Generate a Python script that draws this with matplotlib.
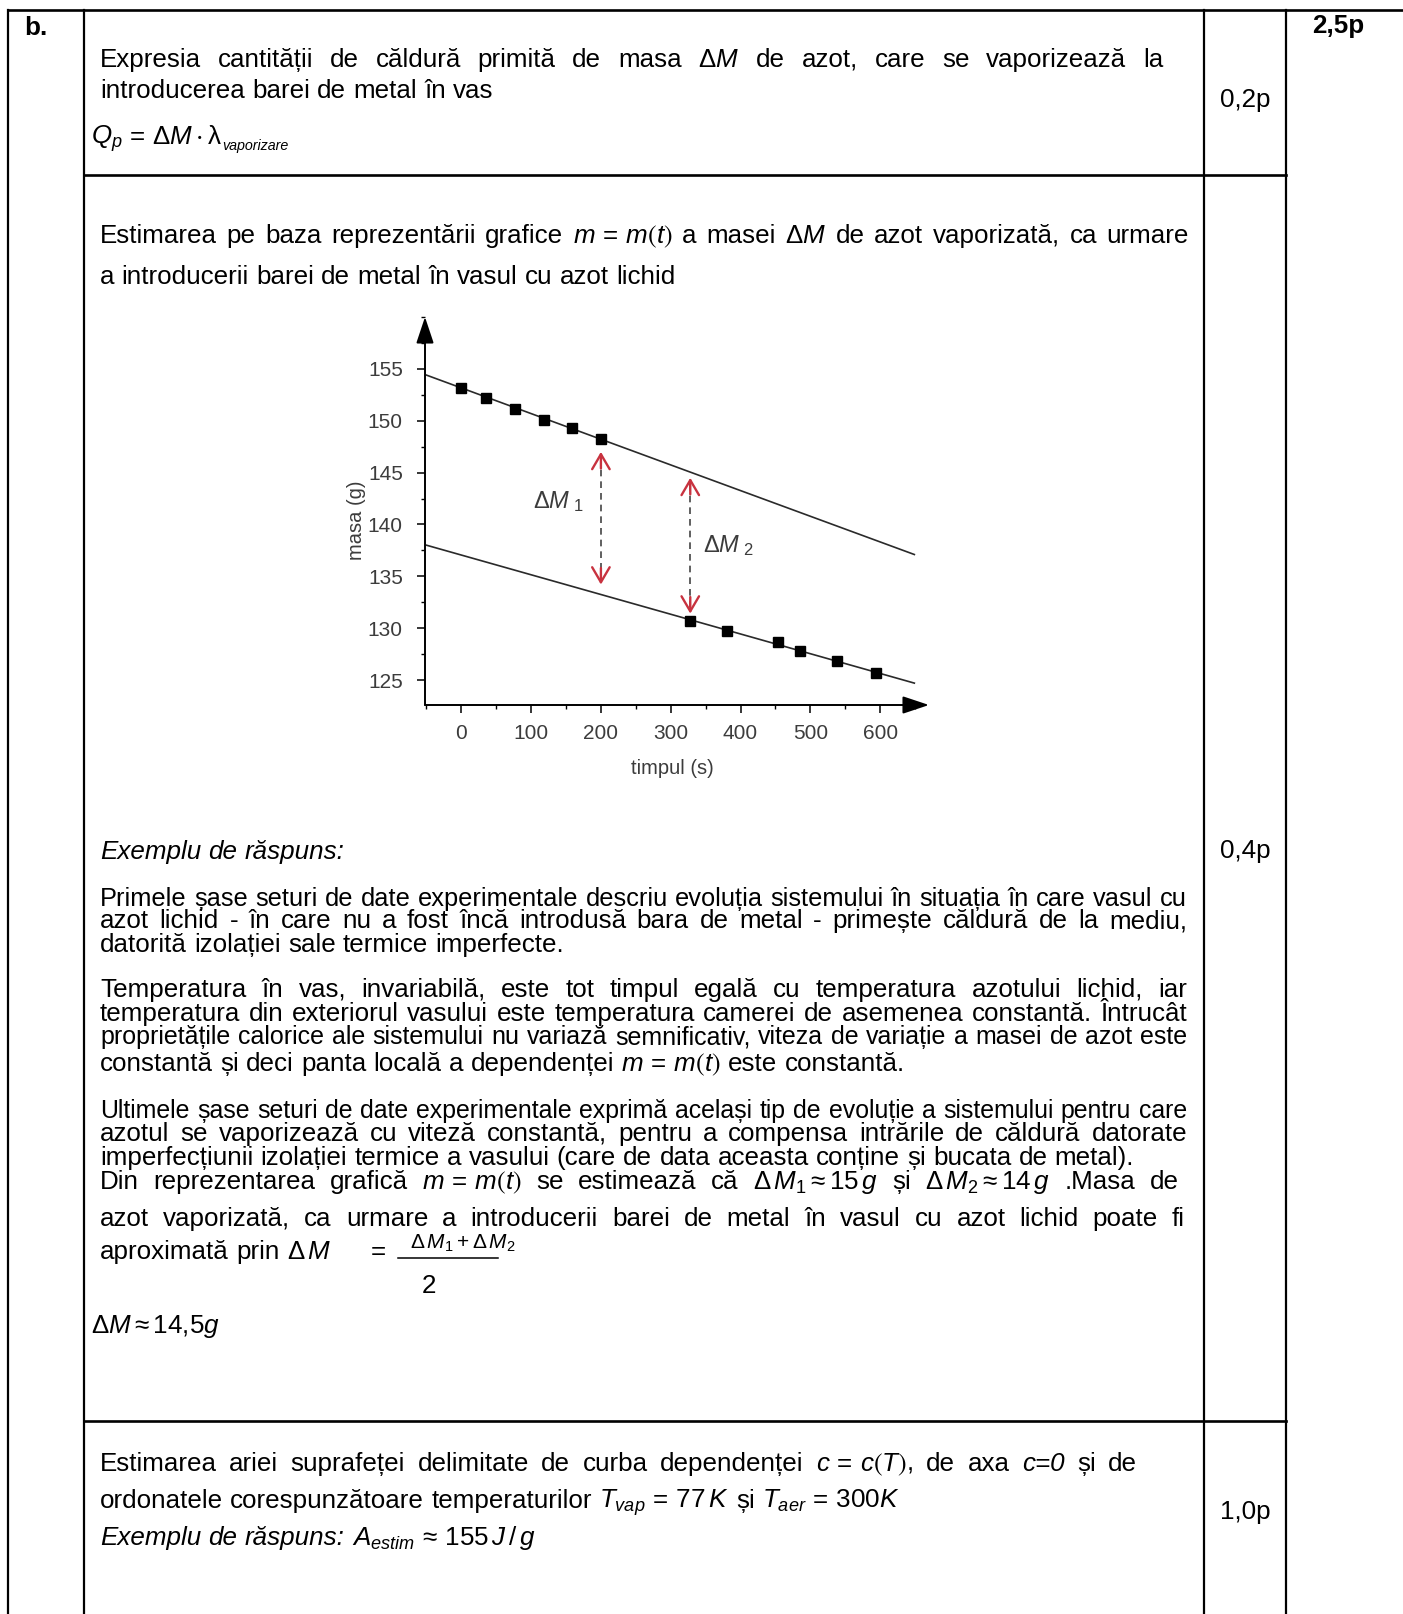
import matplotlib
matplotlib.use('Agg')
import matplotlib.pyplot as plt
from matplotlib.ticker import FixedLocator, MultipleLocator

plt.rcParams['font.family'] = ['Liberation Sans', 'DejaVu Sans']
plt.rcParams['mathtext.fontset'] = 'custom'
plt.rcParams['mathtext.rm'] = 'Liberation Sans'
plt.rcParams['mathtext.it'] = 'Liberation Sans:italic'
plt.rcParams['mathtext.bf'] = 'Liberation Sans:bold'
plt.rcParams['mathtext.sf'] = 'Liberation Sans'
plt.rcParams['mathtext.fallback'] = 'stixsans'

# ---------------- chart data ----------------
t_before = [0, 36, 77, 119, 158, 200]
m_before = [153.2, 152.2, 151.1, 150.1, 149.3, 148.2]
t_after = [328, 380, 453, 485, 538, 594]
m_after = [130.7, 129.7, 128.7, 127.8, 126.8, 125.7]
fit_t = [-50, 649]
fit_before = [154.4, 137.1]
fit_after = [138.0, 124.7]
dm_names = ['1', '2']
dm_t = [200, 328]
dm_top = [147.0, 144.5]
dm_bottom = [134.2, 131.4]
x_ticks = [0, 100, 200, 300, 400, 500, 600]
y_ticks = [125, 130, 135, 140, 145, 150, 155]
x_label = 'timpul (s)'
y_label = 'masa (g)'
point_labels = ['0,2p', '0,4p', '1,0p']
total_label = '2,5p'
row_label = 'b.'

W, H = 1403, 1614
fig = plt.figure(figsize=(W / 100, H / 100), dpi=100)
doc = fig.add_axes([0, 0, 1, 1])
doc.set_xlim(0, W)
doc.set_ylim(H, 0)
doc.axis('off')
renderer = fig.canvas.get_renderer()

FS = 18.7
EM = FS * 100 / 72
SP = 0.278 * EM


def T(s, kind='n'):
    return [(w, kind, False) for w in s.split()]


def M(s, glue=False):
    return [(s, 'n', glue)]


def SUB(s):
    return [(s, 'si', True)]


def make(tok, x, y, fs):
    text, kind, _ = tok
    kw = dict(fontsize=fs, va='baseline', ha='left', color='black')
    if kind == 'i':
        kw['style'] = 'italic'
    if kind == 'b':
        kw['weight'] = 'bold'
    if kind == 'si':
        kw['style'] = 'italic'
        kw['fontsize'] = fs * 0.55
        y = y + fs * 100 / 72 * 0.22
    return doc.text(x, y, text, **kw)


def line(tokens, y, x0=100, x1=None, fs=FS):
    objs = [make(t, x0, y, fs) for t in tokens]
    widths = [o.get_window_extent(renderer).width for o in objs]
    n_gaps = sum(1 for t in tokens[1:] if not t[2])
    sp = SP * fs / FS
    natural = sum(widths) + n_gaps * sp
    if x1 is not None and natural > (x1 - x0) + 0.5:
        for o in objs:
            o.remove()
        return line(tokens, y, x0, x1, fs * (x1 - x0) / natural * 0.995)
    if x1 is None or n_gaps == 0:
        gap = sp
    else:
        gap = (x1 - x0 - sum(widths)) / n_gaps
    x = x0
    for i, (o, w, t) in enumerate(zip(objs, widths, tokens)):
        if i > 0 and not t[2]:
            x += gap
        o.set_x(x)
        x += w
    return x


MM = r'$m\,=\,m\left(t\right)$'
DM = r'$\Delta M$'

# ---------------- table grid ----------------
LW = 1.6
ROW2 = 1421
doc.plot([8, W], [10, 10], color='black', lw=LW + 0.3)
for xv in [8, 84, 1204, 1286]:
    doc.plot([xv, xv], [10, H], color='black', lw=LW)
for yv in [175, ROW2]:
    doc.plot([84, 1286], [yv, yv], color='black', lw=LW + 0.3)

doc.text(24, 35, row_label, fontsize=FS, weight='bold', va='baseline')
doc.text(1312, 33, total_label, fontsize=FS, weight='bold', va='baseline')
doc.text(1245, 107, point_labels[0], fontsize=FS, ha='center', va='baseline')
doc.text(1245, 858, point_labels[1], fontsize=FS, ha='center', va='baseline')
doc.text(1245, 1519, point_labels[2], fontsize=FS, ha='center', va='baseline')

# ---------------- row 1 ----------------
line(T("Expresia cantității de căldură primită de masa") + M(DM) +
     T("de azot, care se vaporizează la"), 67, x1=1163)
line(T("introducerea barei de metal în vas"), 98)
line(M(r"$Q_p$") + T("=") + M(r"$\Delta M\cdot\mathrm{λ}$") + SUB("vaporizare"), 144, x0=91)

# ---------------- row 2 ----------------
line(T("Estimarea pe baza reprezentării grafice") + M(MM) + T("a masei") + M(DM) +
     T("de azot vaporizată, ca urmare"), 243, x1=1189)
line(T("a introducerii barei de metal în vasul cu azot lichid"), 284)

line(T("Exemplu de răspuns:", 'i'), 859)
line(T("Primele șase seturi de date experimentale descriu evoluția sistemului în situația în care vasul cu"), 906, x1=1187)
line(T("azot lichid - în care nu a fost încă introdusă bara de metal - primește căldură de la mediu,"), 928, x1=1187)
line(T("datorită izolației sale termice imperfecte."), 952)
line(T("Temperatura în vas, invariabilă, este tot timpul egală cu temperatura azotului lichid, iar"), 997, x1=1187)
line(T("temperatura din exteriorul vasului este temperatura camerei de asemenea constantă. Întrucât"), 1021, x1=1187)
line(T("proprietățile calorice ale sistemului nu variază semnificativ, viteza de variație a masei de azot este"), 1044, x1=1187)
line(T("constantă și deci panta locală a dependenței") + M(MM) + T("este constantă."), 1071)
line(T("Ultimele șase seturi de date experimentale exprimă același tip de evoluție a sistemului pentru care"), 1118, x1=1187)
line(T("azotul se vaporizează cu viteză constantă, pentru a compensa intrările de căldură datorate"), 1141, x1=1187)
line(T("imperfecțiunii izolației termice a vasului (care de data aceasta conține și bucata de metal)."), 1165)
line(T("Din reprezentarea grafică") + M(MM) + T("se estimează că") +
     M(r"$\Delta\,M_{\mathrm{1}}\approx \mathrm{15}\,g$") + T("și") +
     M(r"$\Delta\,M_{\mathrm{2}}\approx \mathrm{14}\,g$") + T(".Masa de"), 1189, x1=1179)
line(T("azot vaporizată, ca urmare a introducerii barei de metal în vasul cu azot lichid poate fi"), 1226, x1=1185)

# fraction  dM = (dM1 + dM2) / 2
xe = line(T("aproximată prin") + M(r"$\Delta\,M$"), 1259)
eq = doc.text(xe + 40, 1259, "=", fontsize=FS, va='baseline', ha='left')
eq_end = xe + 40 + eq.get_window_extent(renderer).width
bx0, bx1 = eq_end + 12, eq_end + 112
doc.plot([bx0, bx1], [1258, 1258], color='black', lw=1.1)
doc.text(bx0 + 12, 1249, r"$\Delta\,M_{\mathrm{1}} + \Delta\,M_{\mathrm{2}}$", fontsize=15,
         va='baseline', ha='left')
doc.text(bx0 + 31, 1293, "2", fontsize=FS, va='baseline', ha='center')
line(M(r"$\Delta M\approx \mathrm{14{,}5}g$"), 1333, x0=91)

# ---------------- row 3 ----------------
line(T("Estimarea ariei suprafeței delimitate de curba dependenței") + M(r"$c\,=\,c\left(T\right)$") +
     [(",", 'n', True)] + T("de axa") + T("c=0", 'i') + T("și de"), 1471, x1=1137)
line(T("ordonatele corespunzătoare temperaturilor") + M(r"$T_{vap}\,=\,\mathrm{77}\,K$") + T("și") +
     M(r"$T_{aer}\,=\,\mathrm{300}K$"), 1508)
line(T("Exemplu de răspuns:", 'i') + M(r"$A_{estim}\,\approx\,\mathrm{155}\,J\,/\,g$"), 1545)

# ---------------- chart ----------------
ax_l, ax_r, ax_t, ax_b = 425, 929, 317, 705
ax = fig.add_axes([ax_l / W, 1 - ax_b / H, (ax_r - ax_l) / W, (ax_b - ax_t) / H])
ax.set_facecolor('none')
ax.set_xlim(-52, 670)
ax.set_ylim(122.59, 160.0)
for s in ax.spines.values():
    s.set_visible(False)
ax.annotate('', xy=(0, 1), xytext=(0, 0), xycoords='axes fraction',
            arrowprops=dict(arrowstyle='-|>,head_length=0.9,head_width=0.3', color='black', lw=1.4,
                            shrinkA=0, shrinkB=0, mutation_scale=18))
ax.annotate('', xy=(1, 0), xytext=(0, 0), xycoords='axes fraction',
            arrowprops=dict(arrowstyle='-|>,head_length=0.9,head_width=0.3', color='black', lw=1.4,
                            shrinkA=0, shrinkB=0, mutation_scale=18))

ax.xaxis.set_major_locator(FixedLocator(x_ticks))
ax.xaxis.set_minor_locator(MultipleLocator(50))
ax.yaxis.set_major_locator(FixedLocator(y_ticks))
ax.yaxis.set_minor_locator(MultipleLocator(2.5))
ax.tick_params(axis='both', which='major', direction='out', length=5.5, width=1.1,
               color='black', labelcolor='#3c3c3c', labelsize=15)
ax.tick_params(axis='both', which='minor', direction='out', length=3, width=1.0, color='black')
ax.tick_params(axis='y', which='major', pad=10.5)
ax.tick_params(axis='x', which='major', pad=8.5)

ax.set_xlabel(x_label, fontsize=14.5, color='#3c3c3c', va='center')
ax.set_ylabel(y_label, fontsize=14.5, color='#3c3c3c', va='center')
ax.xaxis.set_label_coords((672.5 - ax_l) / (ax_r - ax_l), (ax_b - 769) / (ax_b - ax_t))
ax.yaxis.set_label_coords((357 - ax_l) / (ax_r - ax_l), (ax_b - 520) / (ax_b - ax_t))

ax.plot(fit_t, fit_before, color='#2a2a2a', lw=1.2, zorder=2)
ax.plot(fit_t, fit_after, color='#2a2a2a', lw=1.2, zorder=2)
ax.plot(t_before, m_before, 's', color='black', markersize=7, zorder=3)
ax.plot(t_after, m_after, 's', color='black', markersize=7, zorder=3)

RED = '#c8323f'
for x, top, bot in zip(dm_t, dm_top, dm_bottom):
    ax.plot([x, x], [top - 0.6, bot + 0.6], color='#444444', lw=1.2, ls=(0, (4, 3)), zorder=2)
    for tip, tail in [(top, top - 1.6), (bot, bot + 1.6)]:
        ax.annotate('', xy=(x, tip), xytext=(x, tail),
                    arrowprops=dict(arrowstyle='->,head_length=0.6,head_width=0.35', color=RED,
                                    lw=1.7, shrinkA=0, shrinkB=0, mutation_scale=18))

ax.text(103, 142.2, r'$\Delta M_{\ 1}$', fontsize=17, color='#3c3c3c', va='center', ha='left')
ax.text(346, 138.0, r'$\Delta M_{\ 2}$', fontsize=17, color='#3c3c3c', va='center', ha='left')

fig.savefig('out.png', dpi=100)
